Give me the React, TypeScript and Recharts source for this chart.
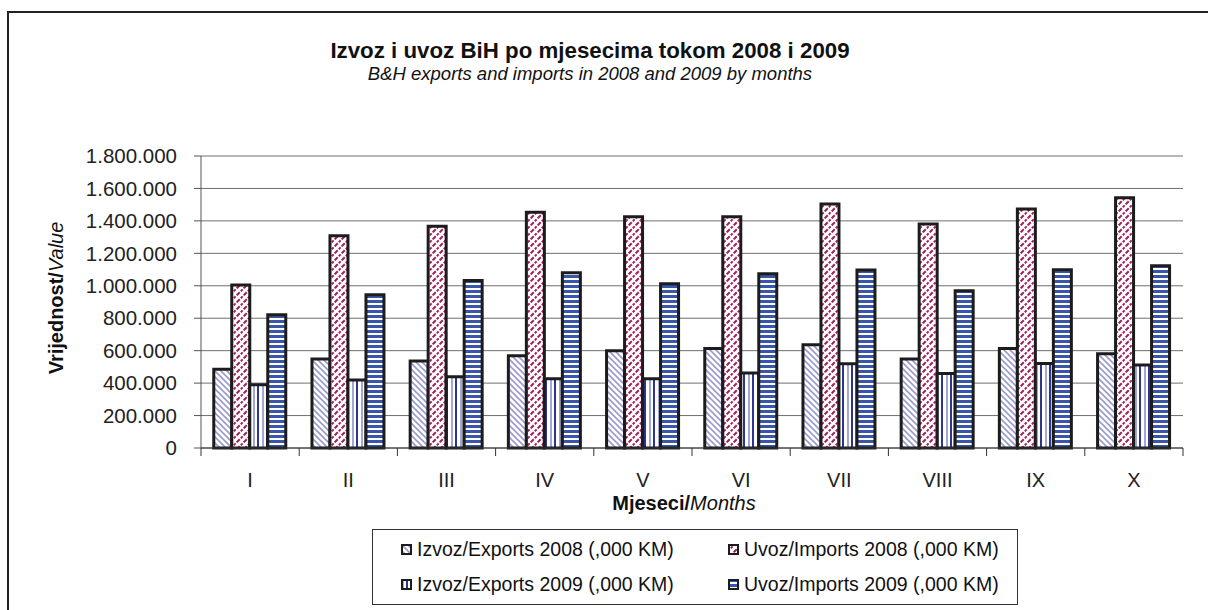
import { BarChart, Bar, XAxis, YAxis, CartesianGrid, Legend, Label } from "recharts";

const months = ["I", "II", "III", "IV", "V", "VI", "VII", "VIII", "IX", "X"];
const exports2008 = [485000, 549000, 536000, 569000, 600000, 614000, 637000, 549000, 614000, 581000];
const imports2008 = [1005000, 1308000, 1367000, 1454000, 1426000, 1425000, 1504000, 1381000, 1474000, 1542000];
const exports2009 = [390000, 419000, 439000, 427000, 427000, 462000, 520000, 459000, 521000, 511000];
const imports2009 = [822000, 944000, 1033000, 1080000, 1012000, 1074000, 1097000, 970000, 1099000, 1124000];
const yTicks = [0, 200000, 400000, 600000, 800000, 1000000, 1200000, 1400000, 1600000, 1800000];
const seriesNames = [
  "Izvoz/Exports 2008 (,000 KM)",
  "Uvoz/Imports 2008 (,000 KM)",
  "Izvoz/Exports 2009 (,000 KM)",
  "Uvoz/Imports 2009 (,000 KM)",
];

const data = months.map((m, i) => ({
  month: m,
  exp08: exports2008[i],
  imp08: imports2008[i],
  exp09: exports2009[i],
  imp09: imports2009[i],
}));

const W = 1208;
const H = 610;
const PLOT_LEFT = 201;
const PLOT_RIGHT = 1183;
const PLOT_TOP = 156;
const PLOT_BOTTOM = 448;
const X_AXIS_H = 60;

const patternFor: Record<string, string> = {
  exp08: "url(#pExp08)",
  imp08: "url(#pImp08)",
  exp09: "url(#pExp09)",
  imp09: "url(#pImp09)",
};

// dots as thousands separator, e.g. 1.800.000
const fmt = (v: number) => String(v).replace(/\B(?=(\d{3})+(?!\d))/g, ".");

function MonthTick(props: any) {
  const { x, payload, index } = props;
  const band = (PLOT_RIGHT - PLOT_LEFT) / months.length;
  return (
    <g>
      <text x={x} y={PLOT_BOTTOM + 39} textAnchor="middle" fontSize={20} fill="#222">
        {payload.value}
      </text>
      <line x1={x + band / 2} x2={x + band / 2} y1={PLOT_BOTTOM} y2={PLOT_BOTTOM + 8} stroke="#333" />
      {index === 0 && (
        <line x1={x - band / 2} x2={x - band / 2} y1={PLOT_BOTTOM} y2={PLOT_BOTTOM + 8} stroke="#333" />
      )}
    </g>
  );
}

function YTitle(props: any) {
  const vb = props.viewBox || { y: PLOT_TOP, height: PLOT_BOTTOM - PLOT_TOP };
  const cx = 63;
  const cy = vb.y + vb.height / 2 - 4;
  return (
    <text x={cx} y={cy} transform={`rotate(-90 ${cx} ${cy})`} textAnchor="middle" fontSize={20} fill="#111">
      <tspan fontWeight="bold">Vrijednost/</tspan>
      <tspan fontStyle="italic">Value</tspan>
    </text>
  );
}

function XTitle(props: any) {
  const vb = props.viewBox || { x: PLOT_LEFT, width: PLOT_RIGHT - PLOT_LEFT };
  const cx = vb.x + vb.width / 2 - 8;
  return (
    <text x={cx} y={PLOT_BOTTOM + 62} textAnchor="middle" fontSize={20} fill="#111">
      <tspan fontWeight="bold">Mjeseci/</tspan>
      <tspan fontStyle="italic">Months</tspan>
    </text>
  );
}

function LegendBox(props: any) {
  const payload = [...(props.payload || [])].sort(
    (a: any, b: any) => seriesNames.indexOf(a.value) - seriesNames.indexOf(b.value)
  );
  return (
    <div
      style={{
        width: 646,
        height: 76,
        boxSizing: "border-box",
        border: "1px solid #333",
        background: "#fff",
        paddingLeft: 28,
        paddingTop: 2,
        display: "grid",
        gridTemplateColumns: "327px auto",
        gridAutoRows: "35px",
        alignItems: "center",
        fontSize: 19.5,
        color: "#111",
      }}
    >
      {payload.map((e: any) => (
        <div key={e.value} style={{ display: "flex", alignItems: "center", whiteSpace: "nowrap" }}>
          <svg width={11} height={11} style={{ marginRight: 5 }}>
            <rect x={1} y={1} width={9} height={9} fill={patternFor[e.dataKey] || e.color} stroke="#1c1c1c" strokeWidth={2} />
          </svg>
          <span>{e.value}</span>
        </div>
      ))}
    </div>
  );
}

export default function App() {
  return (
    <div
      style={{
        position: "absolute",
        left: 0,
        top: 0,
        width: W,
        height: H,
        overflow: "hidden",
        background: "#fff",
        fontFamily: '"Liberation Sans", Arial, sans-serif',
      }}
    >
      <div
        style={{
          position: "absolute",
          left: 7,
          top: 11,
          width: 1400,
          height: 800,
          border: "2px solid #222",
        }}
      />
      <div
        style={{
          position: "absolute",
          left: 0,
          top: 40,
          width: 1180,
          textAlign: "center",
          fontSize: 22.3,
          lineHeight: "22.3px",
          fontWeight: "bold",
          color: "#111",
        }}
      >
        Izvoz i uvoz BiH po mjesecima tokom 2008 i 2009
      </div>
      <div
        style={{
          position: "absolute",
          left: 0,
          top: 65,
          width: 1180,
          textAlign: "center",
          fontSize: 18.5,
          lineHeight: "18.5px",
          fontStyle: "italic",
          color: "#111",
        }}
      >
        B&amp;H exports and imports in 2008 and 2009 by months
      </div>
      <div style={{ position: "absolute", left: 0, top: 0 }}>
        <BarChart
          width={W}
          height={H}
          data={data}
          margin={{ top: PLOT_TOP, right: W - PLOT_RIGHT, left: 0, bottom: H - PLOT_BOTTOM - X_AXIS_H }}
          barCategoryGap="13%"
          barGap={0}
        >
          <defs>
            <pattern id="pExp08" patternUnits="userSpaceOnUse" width={6} height={6}>
              <rect width={6} height={6} fill="#fff" />
              <path d="M-1,-1 L7,7 M-1,5 L1,7 M5,-1 L7,1" stroke="#9a9ad0" strokeWidth={1.6} />
            </pattern>
            <pattern id="pImp08" patternUnits="userSpaceOnUse" width={7} height={7}>
              <rect width={7} height={7} fill="#fff" />
              <path d="M0,7 L7,0 M-1,1 L1,-1 M6,8 L8,6" stroke="#a0205a" strokeWidth={2} strokeDasharray="2.5 1.5" />
            </pattern>
            <pattern id="pExp09" patternUnits="userSpaceOnUse" width={9} height={4}>
              <rect width={9} height={4} fill="#fff" />
              <rect x={1} width={2} height={4} fill="#a3a7d8" />
              <rect x={5} width={2} height={4} fill="#2c3590" />
            </pattern>
            <pattern id="pImp09" patternUnits="userSpaceOnUse" width={4} height={5}>
              <rect width={4} height={5} fill="#fff" />
              <rect width={4} height={3} fill="#3a56a8" />
            </pattern>
          </defs>
          <CartesianGrid vertical={false} stroke="#6f6f6f" />
          <XAxis
            dataKey="month"
            height={X_AXIS_H}
            interval={0}
            tickLine={false}
            axisLine={{ stroke: "#333" }}
            tick={(p: any) => <MonthTick {...p} />}
          >
            <Label content={XTitle} />
          </XAxis>
          <YAxis
            width={PLOT_LEFT}
            domain={[0, 1800000]}
            ticks={yTicks}
            interval={0}
            tickFormatter={fmt}
            tickSize={7}
            tickMargin={17}
            tickLine={{ stroke: "#555" }}
            axisLine={{ stroke: "#555" }}
            tick={{ fontSize: 20.5, fill: "#222" }}
          >
            <Label content={YTitle} />
          </YAxis>
          <YAxis
            yAxisId="right"
            orientation="right"
            width={0}
            domain={[0, 1800000]}
            tick={false}
            tickLine={false}
            axisLine={{ stroke: "#999" }}
          />
          <Legend
            layout="horizontal"
            verticalAlign="middle"
            align="center"
            wrapperStyle={{ left: 372, top: 529, width: 646, height: 76 }}
            content={LegendBox}
          />
          <Bar dataKey="exp08" name={seriesNames[0]} fill={patternFor.exp08} stroke="#1c1c1c" strokeWidth={3} isAnimationActive={false} />
          <Bar dataKey="imp08" name={seriesNames[1]} fill={patternFor.imp08} stroke="#1c1c1c" strokeWidth={3} isAnimationActive={false} />
          <Bar dataKey="exp09" name={seriesNames[2]} fill={patternFor.exp09} stroke="#1c1c1c" strokeWidth={3} isAnimationActive={false} />
          <Bar dataKey="imp09" name={seriesNames[3]} fill={patternFor.imp09} stroke="#1c1c1c" strokeWidth={3} isAnimationActive={false} />
        </BarChart>
      </div>
    </div>
  );
}
